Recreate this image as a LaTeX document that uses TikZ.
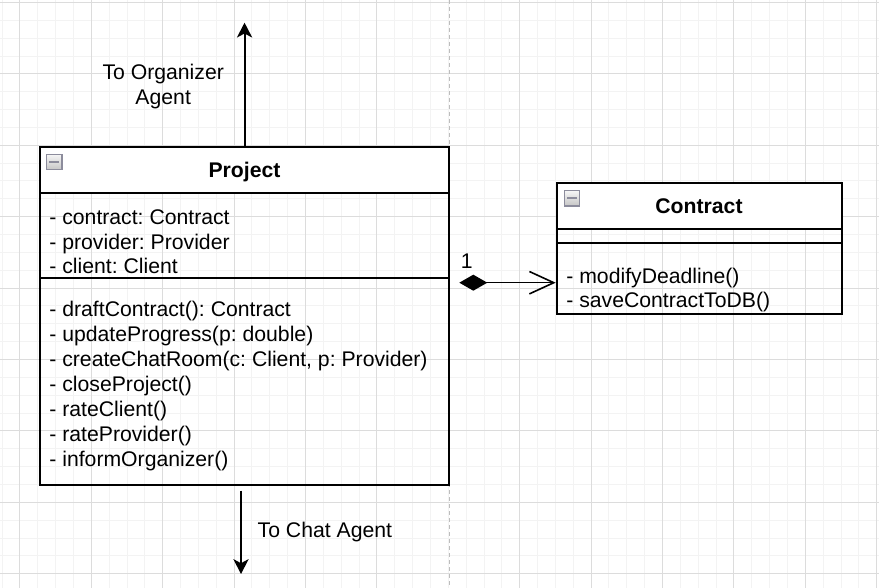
\documentclass[tikz,border=0pt]{standalone}
\usepackage{fontspec}
\setmainfont{Liberation Sans}
\usetikzlibrary{arrows.meta}
\definecolor{gridminor}{HTML}{F3F3F3}
\definecolor{gridmajor}{HTML}{DCDCDC}
\definecolor{pageline}{HTML}{BDBDBD}
\definecolor{iconedge}{HTML}{8C8C9C}
\frenchspacing
\begin{document}
\begin{tikzpicture}[x=0.5pt,y=-0.5pt,
    minorgrid/.style={line width=0.5pt,color=gridminor},
    majorgrid/.style={line width=0.5pt,color=gridmajor},
    pagebreak/.style={line width=0.75pt,color=pageline,dash pattern=on 2pt off 1.5pt},
    classbox/.style={draw=black,line width=1pt,inner sep=0pt,rectangle},
    headbox/.style={classbox,fill=white},
    divider/.style={line width=1pt,color=black},
    minusicon/.style={draw=iconedge,line width=0.7pt,top color=gray!8,bottom color=gray!45,
        minimum size=7.6pt,inner sep=0pt,
        path picture={\draw[line width=1pt] ([xshift=-2.4pt]path picture bounding box.center) -- ([xshift=2.4pt]path picture bounding box.center);}},
    member/.style={anchor=base west,inner sep=0pt,font=\fontsize{10.6}{12.5}\selectfont},
    titletext/.style={anchor=base,inner sep=0pt,font=\fontsize{10.6}{12.5}\selectfont\bfseries},
    note/.style={inner sep=0pt,font=\fontsize{10.6}{12.75}\selectfont},
    flow/.style={line width=1pt,-{Stealth[length=7.4pt,width=7.6pt,inset=2pt]}},
    compose/.style={line width=0.8pt,{Diamond[length=14pt,width=8pt]}-{Straight Barb[length=12.2pt,width=11.2pt]}}]
    \useasboundingbox (0,0) rectangle (879,588);
    \fill[white] (0,0) rectangle (879,588);
    \foreach \k in {0,...,49} \draw[minorgrid] ({2.05+17.85*\k},0) -- ({2.05+17.85*\k},588);
    \foreach \k in {0,...,32} \draw[minorgrid] (0,{2.5+17.85*\k}) -- (879,{2.5+17.85*\k});
    \foreach \k in {0,...,5,7,8,...,12} \draw[majorgrid] ({19.9+71.4*\k},0) -- ({19.9+71.4*\k},588);
    \foreach \k in {0,...,8} \draw[majorgrid] (0,{2.5+71.4*\k}) -- (879,{2.5+71.4*\k});
    \draw[pagebreak] (449.3,0) -- (449.3,588);

    \node[classbox,minimum width=204.75pt,minimum height=169.3pt] (project) at (244.55,316) {};
    \node[headbox,minimum width=204.75pt,minimum height=23pt,anchor=north] (projecthead) at (project.north) {};
    \draw[divider] (39.8,278.5) -- (449.3,278.5);
    \node[minusicon] (projecticon) at (54.2,162.2) {};
    \node[titletext] (projecttitle) at (244.5,178) {Project};
    \foreach \txt [count=\i] in {{- contract: Contract},{- provider: Provider},{- client: Client}}
        \node[member] (projectattr\i) at (49,{225+24.3*(\i-1)}) {\txt};
    \foreach \txt [count=\i] in {{- draftContract(): Contract},{- updateProgress(p: double)},
        {- createChatRoom(c: Client, p: Provider)},{- closeProject()},{- rateClient()},
        {- rateProvider()},{- informOrganizer()}}
        \node[member] (projectop\i) at (49,{316.7+25*(\i-1)}) {\txt};

    \node[classbox,minimum width=142.5pt,minimum height=65.65pt] (contract) at (699.2,248.35) {};
    \node[headbox,minimum width=142.5pt,minimum height=23pt,anchor=north] (contracthead) at (contract.north) {};
    \draw[divider] (556.7,242.7) -- (841.7,242.7);
    \node[minusicon] (contracticon) at (572,198.3) {};
    \node[titletext] (contracttitle) at (699,214) {Contract};
    \node[member] (contractop1) at (566,283.3) {- modifyDeadline()};
    \node[member] (contractop2) at (566,308) {- saveContractToDB()};

    \coordinate (orgtip) at (244.55,22.7);
    \draw[flow] (project.north) -- (orgtip);
    \node[note,align=center] (orglabel) at (163.2,86.4) {To Organizer\\Agent};
    \coordinate (chatfrom) at (241,490.7);
    \coordinate (chattip) at (241,574);
    \draw[flow] (chatfrom) -- (chattip);
    \node[note,anchor=base west] (chatlabel) at (257.3,537.7) {To Chat Agent};
    \coordinate (composefrom) at (459.3,282.7);
    \draw[compose] (composefrom) -- (composefrom -| contract.west);
    \node[note,anchor=base] (composemult) at (466.7,269) {1};
\end{tikzpicture}
\end{document}
